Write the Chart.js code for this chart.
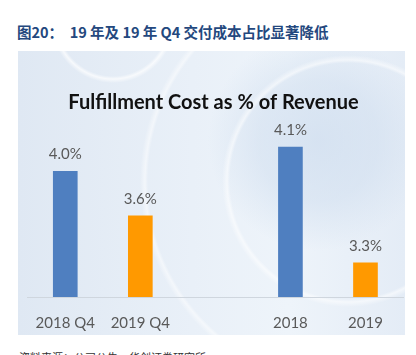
<!DOCTYPE html>
<html>
<head>
<meta charset="utf-8">
<script src="https://cdn.jsdelivr.net/npm/chart.js@4/dist/chart.umd.min.js"></script>
<style>
html,body{margin:0;padding:0;background:#fff;width:416px;height:355px;overflow:hidden;position:relative;}
#heading{position:absolute;left:17px;top:21px;font-family:"Noto Sans CJK SC",sans-serif;font-weight:bold;font-size:14.5px;color:#24487e;white-space:nowrap;letter-spacing:0px;}
#panel{position:absolute;left:18px;top:51px;width:387px;height:284px;overflow:hidden;
background:
 radial-gradient(circle at 330px 130px, rgba(255,255,255,0) 0px, rgba(255,255,255,0) 118px, rgba(255,255,255,0.55) 121px, rgba(255,255,255,0) 126px, rgba(255,255,255,0) 200px, rgba(255,255,255,0.5) 203px, rgba(255,255,255,0) 208px),
 radial-gradient(circle at 95px -30px, rgba(255,255,255,0) 0px, rgba(255,255,255,0) 55px, rgba(255,255,255,0.7) 58px, rgba(255,255,255,0) 62px),
 radial-gradient(circle at 300px 90px, rgba(205,220,238,0.7) 0px, rgba(205,220,238,0.5) 60px, rgba(220,232,245,0) 110px),
 linear-gradient(to right, #dfe8f3 0%, #e9f0f8 45%, #eef4fa 70%, #e4ecf6 100%);}
#wrap{position:absolute;left:0;top:0;width:387px;height:301px;}
#source{position:absolute;left:19px;top:349px;font-family:"Noto Sans CJK SC",sans-serif;font-size:11px;color:#333;white-space:nowrap;}
</style>
</head>
<body>
<div id="heading">图20：&nbsp;&nbsp;19 年及 19 年 Q4 交付成本占比显著降低</div>
<div id="panel"><div id="wrap"><canvas id="c"></canvas></div></div>
<div id="source">资料来源：公司公告，华创证券研究所</div>
<script>
const categories = ['2018 Q4', '2019 Q4', '', '2018', '2019'];
const quarterValues = [4.0, 3.6, null, null, null];
const annualValues = [null, null, null, 4.1, 3.3];
const chartTitle = 'Fulfillment Cost as % of Revenue';
const blue = '#4f7fc0';
const orange = '#ff9900';

const valueLabels = {
  id: 'valueLabels',
  afterDatasetsDraw(chart) {
    const ctx = chart.ctx;
    ctx.save();
    ctx.font = '15px Lato, "Liberation Sans", sans-serif';
    ctx.fillStyle = '#595959';
    ctx.textAlign = 'center';
    ctx.textBaseline = 'alphabetic';
    chart.data.datasets.forEach((ds, i) => {
      chart.getDatasetMeta(i).data.forEach((bar, j) => {
        const v = ds.data[j];
        if (v === null || v === undefined) return;
        ctx.fillText(v.toFixed(1) + '%', bar.x, bar.y - 12);
      });
    });
    ctx.restore();
  }
};

new Chart(document.getElementById('c'), {
  type: 'bar',
  data: {
    labels: categories,
    datasets: [
      { data: quarterValues, yAxisID: 'yQ', backgroundColor: [blue, orange, blue, blue, orange], barThickness: 24, grouped: false },
      { data: annualValues, yAxisID: 'yA', backgroundColor: [blue, orange, blue, blue, orange], barThickness: 24, grouped: false }
    ]
  },
  options: {
    responsive: true,
    maintainAspectRatio: false,
    animation: false,
    layout: { padding: { left: 6, right: 2, top: 0, bottom: 3 } },
    plugins: {
      legend: { display: false },
      tooltip: { enabled: false },
      title: {
        display: true,
        text: chartTitle,
        color: '#111',
        font: { family: 'Lato, "Liberation Sans", sans-serif', size: 20, weight: 'bold', lineHeight: 1.2 },
        padding: { top: 40, bottom: 10 }
      }
    },
    scales: {
      x: {
        grid: { display: false, drawTicks: false },
        border: { display: true, color: '#cfd6de', width: 1 },
        ticks: { color: '#595959', padding: 17, font: { family: 'Lato, "Liberation Sans", sans-serif', size: 15, lineHeight: 1.2 } }
      },
      yQ: { display: false, min: 2.866, max: 4.419 },
      yA: { display: false, min: 3.063, max: 4.252 }
    }
  },
  plugins: [valueLabels]
});
</script>
</body>
</html>
